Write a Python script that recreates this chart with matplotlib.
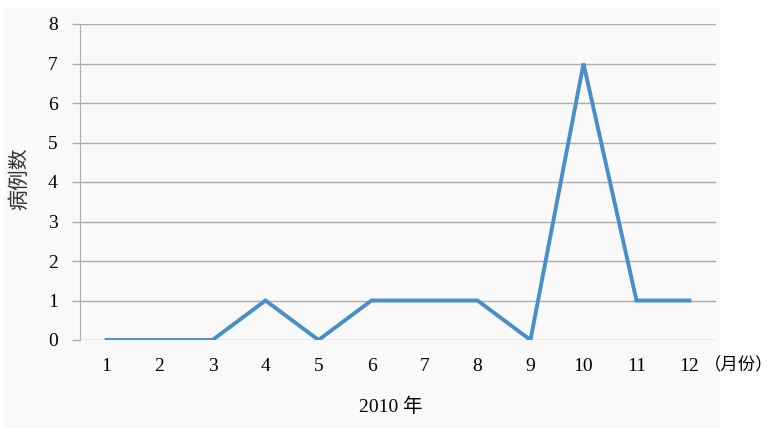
import matplotlib.pyplot as plt
from matplotlib.patches import Rectangle

plt.rcParams['font.family'] = ['Liberation Serif', 'Noto Sans CJK SC']

months = [1, 2, 3, 4, 5, 6, 7, 8, 9, 10, 11, 12]
cases = [0, 0, 0, 1, 0, 1, 1, 1, 0, 7, 1, 1]
yticks = [0, 1, 2, 3, 4, 5, 6, 7, 8]

W, H = 775, 428
fig = plt.figure(figsize=(W / 100, H / 100), dpi=100)
fig.patch.set_facecolor('white')
# light gray panel behind the chart
fig.add_artist(Rectangle((4 / W, 0), (720 - 4) / W, (H - 8) / H,
                         transform=fig.transFigure, facecolor='#f9f9f9',
                         edgecolor='none', zorder=0))

ax = fig.add_axes([80 / W, 1 - 340 / H, (716 - 80) / W, (340 - 24) / H])
ax.set_facecolor('none')
ax.plot(months, cases, color='#4a8ec9', linewidth=2.8, solid_joinstyle='miter', zorder=3)

ax.set_xlim(0.5, 12.5)
ax.set_ylim(0, 8)
ax.set_xticks(months)
ax.set_yticks(yticks)
ax.tick_params(axis='x', length=0, pad=13, labelsize=14)
ax.tick_params(axis='y', length=6, width=1, color='#b0aba7', pad=10, labelsize=14)
ax.grid(axis='y', color='#b0aba7', linewidth=1)
ax.set_axisbelow(True)
for side in ['top', 'right', 'bottom']:
    ax.spines[side].set_visible(False)
ax.spines['left'].set_color('#b0aba7')

fig.text(20 / W, 1 - 179 / H, '病例数', rotation=90, fontsize=15,
         ha='center', va='center', color='#333333')
fig.text(391 / W, 1 - 407 / H, '2010 年', fontsize=14, ha='center', va='center')
fig.text(773 / W, 1 - 366 / H, '（月份）', fontsize=12.5, ha='right', va='center')

fig.savefig('out.png', dpi=100)
